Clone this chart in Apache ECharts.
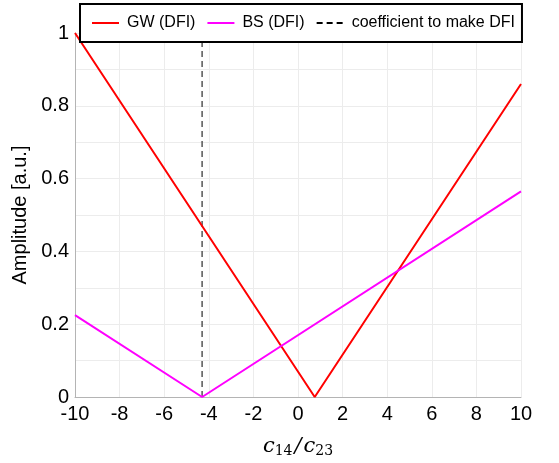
<!DOCTYPE html>
<html>
<head>
<meta charset="utf-8">
<script src="https://cdn.jsdelivr.net/npm/echarts@6/dist/echarts.min.js"></script>
<style>
html,body{margin:0;padding:0;background:#fff;}
#chart{width:559px;height:463px;}
</style>
</head>
<body>
<div id="chart"></div>
<script>
// Data
const gwX = [-10, 0.75, 10];
const gwY = [1.0, 0.0, 0.86];
const bsX = [-10, -4.3, 10];
const bsY = [0.225, 0.0, 0.565];
const dfiX = [-4.3, -4.3];
const dfiY = [0, 1];
const seriesNames = ['GW (DFI)', 'BS (DFI)', 'coefficient to make DFI'];
const xTicks = [-10, -8, -6, -4, -2, 0, 2, 4, 6, 8, 10];
const yTicks = [0, 0.2, 0.4, 0.6, 0.8, 1];

const zip = (xs, ys) => xs.map((x, i) => [x, ys[i]]);
const FONT = 'Liberation Sans, Arial, Helvetica, sans-serif';

const chart = echarts.init(document.getElementById('chart'), null, {renderer: 'canvas'});
chart.setOption({
  animation: false,
  backgroundColor: '#fff',
  textStyle: {fontFamily: FONT},
  grid: {left: 75, right: 38, top: 33, bottom: 56, containLabel: false},
  legend: {
    data: [
      {name: seriesNames[0]},
      {name: seriesNames[1]},
      {name: seriesNames[2], lineStyle: {color: '#000'}}
    ],
    left: 80, top: 4,
    padding: [11, 7, 11, 11],
    itemWidth: 27, itemHeight: 14,
    itemGap: 11,
    backgroundColor: '#fff',
    borderColor: '#000', borderWidth: 2, borderRadius: 0,
    itemStyle: {color: 'transparent', borderWidth: 0, opacity: 0},
    textStyle: {fontSize: 16, color: '#000', fontFamily: FONT, padding: [0, 0, 0, 3]}
  },
  xAxis: {
    type: 'value', min: xTicks[0], max: xTicks[xTicks.length - 1], interval: 2,
    axisLine: {show: true, onZero: false, lineStyle: {color: '#b4b4b4', width: 1}},
    axisTick: {show: false},
    axisLabel: {fontSize: 20, color: '#000', margin: 7, fontFamily: FONT},
    splitLine: {show: true, lineStyle: {color: '#ececec', width: 1}},
    name: '{c|c}{s|14}{sl|/}{c|c}{s|23}',
    nameLocation: 'middle', nameGap: 39,
    nameTextStyle: {
      rich: {
        c: {fontFamily: 'DejaVu Serif, serif', fontStyle: 'italic', fontSize: 21, color: '#000'},
        s: {fontFamily: 'DejaVu Serif, serif', fontSize: 14, color: '#000', padding: [8, 0, 0, 0]},
        sl: {fontFamily: 'DejaVu Serif, serif', fontStyle: 'italic', fontSize: 21, color: '#000', padding: [0, 2, 0, 2]}
      }
    }
  },
  yAxis: {
    type: 'value', min: yTicks[0], max: yTicks[yTicks.length - 1], interval: 0.2,
    axisLine: {show: true, onZero: false, lineStyle: {color: '#b4b4b4', width: 1}},
    axisTick: {show: false},
    axisLabel: {fontSize: 20, color: '#000', margin: 6, fontFamily: FONT},
    splitLine: {show: true, lineStyle: {color: '#ececec', width: 1}},
    minorTick: {show: false, splitNumber: 2},
    minorSplitLine: {show: true, lineStyle: {color: '#ececec', width: 1}},
    name: 'Amplitude [a.u.]',
    nameLocation: 'middle', nameGap: 42,
    nameTextStyle: {fontSize: 20, color: '#000', fontFamily: FONT}
  },
  series: [
    {
      name: seriesNames[0], type: 'line', data: zip(gwX, gwY),
      symbol: 'none', color: '#ff0000',
      lineStyle: {color: '#ff0000', width: 2}, z: 3
    },
    {
      name: seriesNames[1], type: 'line', data: zip(bsX, bsY),
      symbol: 'none', color: '#ff00ff',
      lineStyle: {color: '#ff00ff', width: 2}, z: 3
    },
    {
      name: seriesNames[2], type: 'line', data: zip(dfiX, dfiY),
      symbol: 'none', color: '#000',
      lineStyle: {color: '#555', width: 1.5, type: [6, 4]}, z: 2
    }
  ]
});
</script>
</body>
</html>
